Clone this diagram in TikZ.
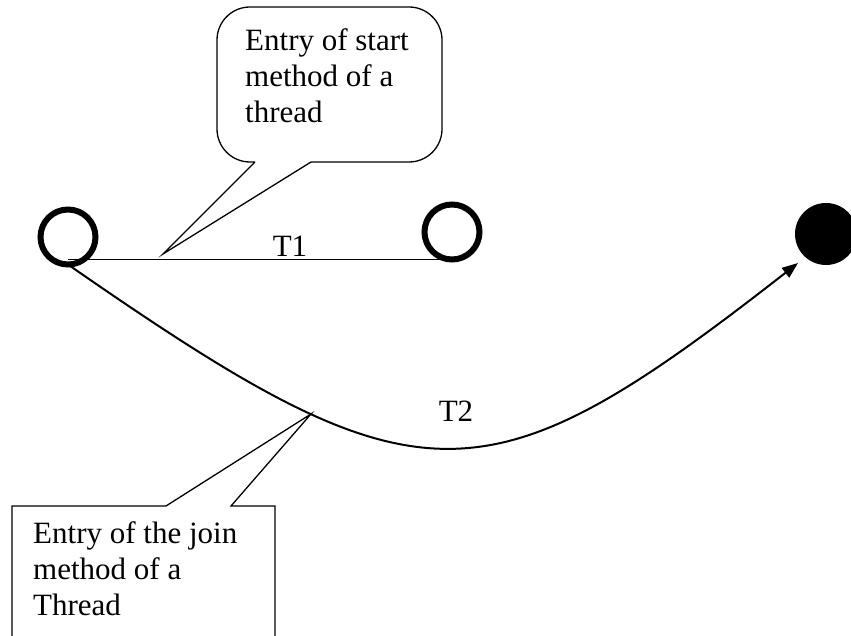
\documentclass[tikz,border=0pt]{standalone}
\usepackage{fontspec}
\setmainfont{Liberation Serif}
\usetikzlibrary{arrows.meta}

\begin{document}
\begin{tikzpicture}[x=1pt,y=-1pt,
  state/.style={circle, draw, line width=6pt, minimum size=55pt, inner sep=0pt, outer sep=0pt},
  endstate/.style={circle, fill=black, minimum size=62pt, inner sep=0pt, outer sep=0pt},
  note/.style={font=\fontsize{31}{36}\selectfont, align=left, inner sep=0pt, anchor=base west},
  lbl/.style={font=\fontsize{31}{36}\selectfont, inner sep=0pt, anchor=base},
  bubble/.style={line width=1.3pt, line join=miter}]
\useasboundingbox (0,0) rectangle (851,636);
% states
\node[state] (s0) at (68,237) {};
\node[state] (s1) at (452,232) {};
\node[endstate] (s2) at (826,234) {};
% T1
\draw[line width=1.7pt] (s0.south |- s1.south) -- (s1.south);
\node[lbl] (t1) at (290,257) {T1};
% T2
\coordinate (t2end) at (798,263);
\draw[line width=2pt, -{Triangle[length=16pt,width=12pt]}] (s0.south) .. controls (420,509) and (483,509) .. (t2end) coordinate[pos=0.285] (joinpt);
\node[lbl] (t2) at (456,421) {T2};
% note on start (base = last line)
\node[note] (startnote) at (245,123) {Entry of start\\method of a\\thread};
\coordinate (starttip) at (163,254);
\draw[bubble] (255,162) -- (starttip) -- (311,162) [rounded corners=33pt] -- (442,162) -- (442,7) -- (217,7) -- (217,162) -- (255,162);
% note on join
\node[note] (joinnote) at (33,615) {Entry of the join\\method of a\\Thread};
\draw[bubble] (12,650) -- (12,506) -- (166,506) -- (joinpt) -- (231,506) -- (275,506) -- (275,650);
\end{tikzpicture}
\end{document}
